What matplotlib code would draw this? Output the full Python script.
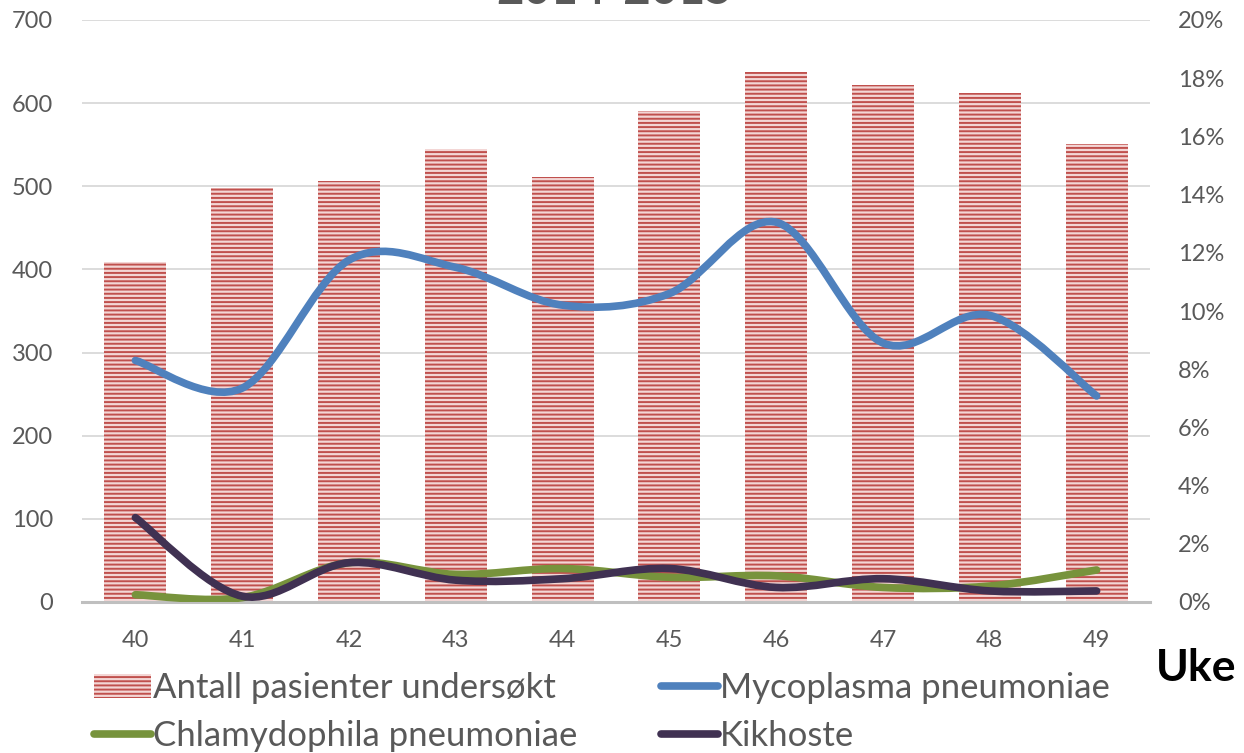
import matplotlib
matplotlib.use("Agg")
import matplotlib.pyplot as plt
from matplotlib.path import Path
from matplotlib.patches import PathPatch
from matplotlib.lines import Line2D
from matplotlib.ticker import FuncFormatter

plt.rcParams['font.family'] = ['Lato', 'DejaVu Sans']
plt.rcParams['hatch.linewidth'] = 1.4

# data
weeks = [40, 41, 42, 43, 44, 45, 46, 47, 48, 49]
patients = [409, 498, 506, 545, 511, 590, 638, 622, 612, 551]
mycoplasma = [8.3, 7.35, 11.75, 11.5, 10.2, 10.6, 13.05, 8.9, 9.85, 7.08]
chlamydophila = [0.25, 0.15, 1.35, 0.95, 1.15, 0.85, 0.9, 0.5, 0.55, 1.1]
kikhoste = [2.9, 0.2, 1.35, 0.75, 0.8, 1.15, 0.5, 0.8, 0.38, 0.38]

grey = '#595959'


def smooth_path(xs, ys):
    # catmull-rom style bezier, like excel's smoothed line
    n = len(xs)
    pts = list(zip(xs, ys))
    verts = [pts[0]]
    codes = [Path.MOVETO]
    for i in range(n - 1):
        p0 = pts[i - 1] if i > 0 else pts[i]
        p1 = pts[i]
        p2 = pts[i + 1]
        p3 = pts[i + 2] if i + 2 < n else pts[i + 1]
        c1 = (p1[0] + (p2[0] - p0[0]) / 6, p1[1] + (p2[1] - p0[1]) / 6)
        c2 = (p2[0] - (p3[0] - p1[0]) / 6, p2[1] - (p3[1] - p1[1]) / 6)
        verts += [c1, c2, p2]
        codes += [Path.CURVE4] * 3
    return Path(verts, codes)


fig = plt.figure(figsize=(12.44, 7.53), dpi=100)
ax = fig.add_axes([82 / 1244, 1 - 602 / 753, (1150 - 82) / 1244, (602 - 20) / 753])
ax2 = ax.twinx()

ax.bar(weeks, patients, width=0.58, facecolor='#f3d6d5', edgecolor='#c0504d',
       linewidth=0, hatch='----', label='Antall pasienter undersøkt', zorder=2)

ax.set_xlim(39.5, 49.5)
ax.set_ylim(0, 700)
ax.set_yticks(range(0, 701, 100))
ax.yaxis.grid(True, color='#d9d9d9', linewidth=1.3)
ax.set_axisbelow(True)
ax.set_xticks(weeks)

ax2.set_ylim(0, 20)
ax2.set_yticks(range(0, 21, 2))
ax2.yaxis.set_major_formatter(FuncFormatter(lambda v, p: f'{int(v)}%'))

series = [
    (mycoplasma, '#4f81bd', 'Mycoplasma pneumoniae'),
    (chlamydophila, '#77933c', 'Chlamydophila pneumoniae'),
    (kikhoste, '#403152', 'Kikhoste'),
]
handles = {}
for vals, col, lab in series:
    patch = PathPatch(smooth_path(weeks, vals), fill=False, edgecolor=col,
                      linewidth=5.5, capstyle='round', joinstyle='round', zorder=3)
    ax2.add_patch(patch)
    handles[lab] = Line2D([], [], color=col, linewidth=5.5, solid_capstyle='round')

for a in (ax, ax2):
    for s in a.spines.values():
        s.set_visible(False)
    a.tick_params(length=0, labelsize=17, labelcolor=grey)
ax.spines['bottom'].set_visible(True)
ax.spines['bottom'].set_color('#bfbfbf')
ax.spines['bottom'].set_linewidth(2.2)
ax.tick_params(axis='y', pad=21)
ax.tick_params(axis='x', pad=20)
ax2.tick_params(axis='y', pad=20)

# column-major order so rows read: Antall | Mycoplasma, Chlamydophila | Kikhoste
bar_handle = ax.containers[0].patches[0]
leg = fig.legend([bar_handle, handles['Chlamydophila pneumoniae'],
                  handles['Mycoplasma pneumoniae'], handles['Kikhoste']],
                 ['Antall pasienter undersøkt', 'Chlamydophila pneumoniae',
                  'Mycoplasma pneumoniae', 'Kikhoste'],
                 ncol=2, loc='upper left', bbox_to_anchor=(94 / 1244, 1 - 672 / 753),
                 frameon=False, fontsize=25, labelcolor=grey, handlelength=1.65,
                 handletextpad=0.05, columnspacing=2.4, labelspacing=0.47,
                 borderaxespad=0, borderpad=0)

fig.text(1196 / 1244, 1 - 668 / 753, 'Uke', fontsize=32, fontweight='bold',
         ha='center', va='center', color='black')
fig.text(615 / 1244, 1 - 4 / 753, '2014-2015', fontsize=34, fontweight='bold',
         ha='center', va='baseline', color=grey)

fig.savefig('out.png', dpi=100)
